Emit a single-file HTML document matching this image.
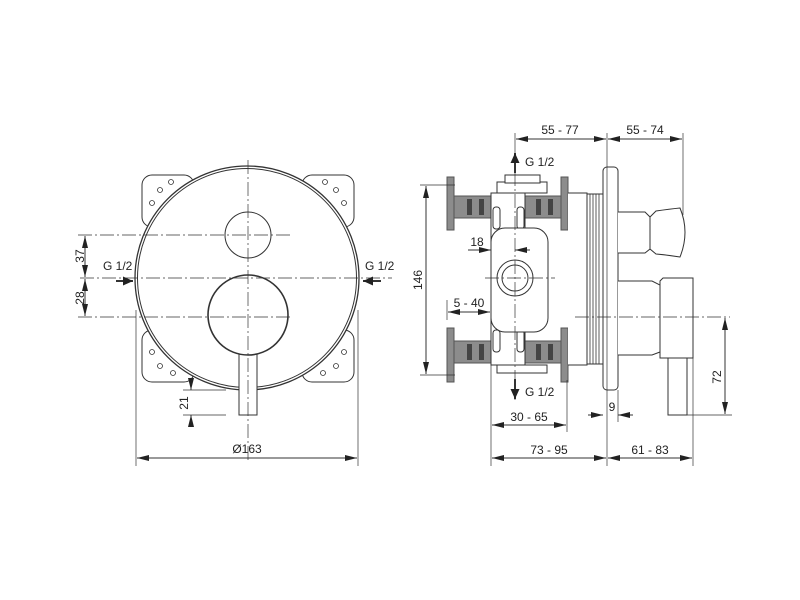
<!DOCTYPE html>
<html><head><meta charset="utf-8"><style>
html,body{margin:0;padding:0;background:#fff;width:800px;height:600px;overflow:hidden}
text{font-family:"Liberation Sans",Arial,sans-serif;font-size:12px;fill:#222}
</style></head><body>
<svg width="800" height="600" viewBox="0 0 800 600" xmlns="http://www.w3.org/2000/svg">
<defs>
<marker id="a" viewBox="0 0 12 6" refX="12" refY="3" markerWidth="12" markerHeight="6" orient="auto-start-reverse" markerUnits="userSpaceOnUse"><path d="M0,0L12,3L0,6z" fill="#222"/></marker>
<marker id="b" viewBox="0 0 10 9" refX="10" refY="4.5" markerWidth="10" markerHeight="9" orient="auto" markerUnits="userSpaceOnUse"><path d="M0,0L10,4.5L0,9z" fill="#222"/></marker>
</defs>
<g stroke="#333" stroke-width="1" fill="none">
<g fill="#fff">
<rect x="142" y="175" width="52" height="52" rx="10"/>
<rect x="302" y="175" width="52" height="52" rx="10"/>
<rect x="142" y="330" width="52" height="52" rx="10"/>
<rect x="302" y="330" width="52" height="52" rx="10"/>
</g>
<g stroke-width="0.8">
<circle cx="160" cy="190" r="2.5"/><circle cx="152" cy="203" r="2.5"/><circle cx="171" cy="182" r="2.5"/>
<circle cx="336" cy="190" r="2.5"/><circle cx="344" cy="203" r="2.5"/><circle cx="325" cy="182" r="2.5"/>
<circle cx="152" cy="352" r="2.5"/><circle cx="160" cy="366" r="2.5"/><circle cx="173" cy="373" r="2.5"/>
<circle cx="344" cy="352" r="2.5"/><circle cx="336" cy="366" r="2.5"/><circle cx="323" cy="373" r="2.5"/>
</g>
<circle cx="247" cy="278" r="112" fill="#fff" stroke-width="1.3"/>
<circle cx="247" cy="278" r="109.5"/>
<circle cx="248" cy="235" r="23"/>
<rect x="239" y="352" width="18" height="63" fill="#fff"/>
<circle cx="248" cy="315" r="40" stroke-width="1.6" fill="#fff"/>
<g stroke-width="0.7" stroke-dasharray="14,3,2,3">
<line x1="248" y1="160" x2="248" y2="462"/>
<line x1="80" y1="278" x2="392" y2="278"/>
<line x1="78" y1="235" x2="292" y2="235"/>
<line x1="78" y1="317" x2="292" y2="317"/>
</g>
<line x1="85" y1="236" x2="85" y2="277" marker-start="url(#a)" marker-end="url(#a)"/>
<line x1="85" y1="279" x2="85" y2="316" marker-start="url(#a)" marker-end="url(#a)"/>
<line x1="116" y1="281" x2="133" y2="281" stroke-width="2" marker-end="url(#b)"/>
<line x1="381" y1="281" x2="363" y2="281" stroke-width="2" marker-end="url(#b)"/>
<line x1="183" y1="390" x2="226" y2="390" stroke-width="0.7"/>
<line x1="183" y1="415" x2="226" y2="415" stroke-width="0.7"/>
<line x1="191" y1="380" x2="191" y2="390" marker-end="url(#a)"/>
<line x1="191" y1="425" x2="191" y2="415" marker-end="url(#a)"/>
<line x1="136" y1="310" x2="136" y2="466" stroke-width="0.7"/>
<line x1="358" y1="310" x2="358" y2="466" stroke-width="0.7"/>
<line x1="137" y1="458" x2="357" y2="458" marker-start="url(#a)" marker-end="url(#a)"/>

<g fill="#8c8c8c" stroke="#555">
<rect x="447" y="177" width="7" height="53"/><rect x="447" y="328" width="7" height="54"/>
<rect x="454" y="196" width="37" height="22"/><rect x="454" y="341" width="37" height="22"/>
<rect x="525" y="196" width="37" height="22"/><rect x="525" y="341" width="37" height="22"/>
<rect x="561" y="177" width="7" height="53"/><rect x="561" y="328" width="7" height="54"/>
</g>
<g fill="#444" stroke="none">
<rect x="467" y="199" width="5" height="16"/><rect x="479" y="199" width="5" height="16"/>
<rect x="467" y="344" width="5" height="16"/><rect x="479" y="344" width="5" height="16"/>
<rect x="536" y="199" width="5" height="16"/><rect x="548" y="199" width="5" height="16"/>
<rect x="536" y="344" width="5" height="16"/><rect x="548" y="344" width="5" height="16"/>
<rect x="506" y="199" width="5" height="16"/><rect x="506" y="344" width="5" height="16"/>
</g>
<rect x="491" y="193" width="34" height="172" fill="#fff"/>
<rect x="497" y="182" width="50" height="11" fill="#fff"/>
<rect x="505" y="175" width="35" height="8" fill="#fff"/>
<rect x="497" y="365" width="50" height="8" fill="#fff"/>
<rect x="493" y="207" width="7" height="22" rx="3" fill="#fff"/><rect x="517" y="207" width="7" height="22" rx="3" fill="#fff"/>
<rect x="493" y="330" width="7" height="22" rx="3" fill="#fff"/><rect x="517" y="330" width="7" height="22" rx="3" fill="#fff"/>
<rect x="491" y="228" width="57" height="104" rx="14" fill="#fff"/>
<circle cx="515" cy="278" r="18"/><circle cx="515" cy="278" r="13"/>
<path d="M568,193H587V365H568" fill="#fff"/>
<rect x="587" y="194" width="16" height="170" fill="#fff"/>
<g stroke-width="0.8"><line x1="590" y1="194" x2="590" y2="364"/><line x1="593" y1="194" x2="593" y2="364"/><line x1="596" y1="194" x2="596" y2="364"/><line x1="599" y1="194" x2="599" y2="364"/></g>
<rect x="603" y="167" width="15" height="223" rx="4" fill="#fff"/>
<path d="M618,212H645L650,217V249L645,253H618" fill="#fff"/>
<path d="M650,217L656,211Q670,209 680,208Q690,232 680,257Q668,255 656,254L650,249Z" fill="#fff"/>
<path d="M618,281H652L660,285V352L652,355H618" fill="#fff"/>
<path d="M660,281L663,278H693V358H660Z" fill="#fff"/>
<rect x="668" y="358" width="19" height="57" fill="#fff"/>
<g stroke-width="0.7" stroke-dasharray="14,3,2,3">
<line x1="515" y1="150" x2="515" y2="400"/>
<line x1="485" y1="278" x2="555" y2="278"/>
<line x1="575" y1="317" x2="730" y2="317"/>
</g>
<g stroke-width="0.7">
<line x1="515" y1="133" x2="515" y2="150"/>
<line x1="607" y1="133" x2="607" y2="466"/>
<line x1="683" y1="133" x2="683" y2="215"/>
<line x1="491" y1="365" x2="491" y2="466"/>
<line x1="693" y1="358" x2="693" y2="466"/>
<line x1="567" y1="380" x2="567" y2="432"/>
<line x1="618" y1="390" x2="618" y2="422"/>
<line x1="420" y1="185" x2="455" y2="185"/>
<line x1="420" y1="375" x2="455" y2="375"/>
<line x1="447" y1="300" x2="447" y2="320"/>
<line x1="687" y1="415" x2="732" y2="415"/>
</g>
<line x1="516" y1="139" x2="606" y2="139" marker-start="url(#a)" marker-end="url(#a)"/>
<line x1="608" y1="139" x2="682" y2="139" marker-start="url(#a)" marker-end="url(#a)"/>
<line x1="426" y1="186" x2="426" y2="374" marker-start="url(#a)" marker-end="url(#a)"/>
<line x1="468" y1="250" x2="491" y2="250" marker-end="url(#a)"/>
<line x1="530" y1="250" x2="515" y2="250" marker-end="url(#a)"/>
<line x1="448" y1="312" x2="490" y2="312" marker-start="url(#a)" marker-end="url(#a)"/>
<line x1="515" y1="173" x2="515" y2="153" stroke-width="2" marker-end="url(#b)"/>
<line x1="515" y1="379" x2="515" y2="399" stroke-width="2" marker-end="url(#b)"/>
<line x1="588" y1="415" x2="603" y2="415" marker-end="url(#a)"/>
<line x1="633" y1="415" x2="618" y2="415" marker-end="url(#a)"/>
<line x1="725" y1="318" x2="725" y2="414" marker-start="url(#a)" marker-end="url(#a)"/>
<line x1="492" y1="425" x2="566" y2="425" marker-start="url(#a)" marker-end="url(#a)"/>
<line x1="492" y1="458" x2="606" y2="458" marker-start="url(#a)" marker-end="url(#a)"/>
<line x1="608" y1="458" x2="692" y2="458" marker-start="url(#a)" marker-end="url(#a)"/>
</g>
<g>
<text x="80" y="256" text-anchor="middle" transform="rotate(-90 80 256)" dy="4">37</text>
<text x="80" y="298" text-anchor="middle" transform="rotate(-90 80 298)" dy="4">28</text>
<text x="103" y="270">G 1/2</text>
<text x="365" y="270">G 1/2</text>
<text x="184" y="403" text-anchor="middle" transform="rotate(-90 184 403)" dy="4">21</text>
<text x="247" y="453" text-anchor="middle">Ø163</text>
<text x="560" y="134" text-anchor="middle">55 - 77</text>
<text x="645" y="134" text-anchor="middle">55 - 74</text>
<text x="525" y="166">G 1/2</text>
<text x="525" y="396">G 1/2</text>
<text x="477" y="246" text-anchor="middle">18</text>
<text x="469" y="307" text-anchor="middle">5 - 40</text>
<text x="418" y="280" text-anchor="middle" transform="rotate(-90 418 280)" dy="4">146</text>
<text x="612" y="411" text-anchor="middle">9</text>
<text x="717" y="377" text-anchor="middle" transform="rotate(-90 717 377)" dy="4">72</text>
<text x="529" y="421" text-anchor="middle">30 - 65</text>
<text x="549" y="454" text-anchor="middle">73 - 95</text>
<text x="650" y="454" text-anchor="middle">61 - 83</text>
</g>
</svg>
</body></html>
